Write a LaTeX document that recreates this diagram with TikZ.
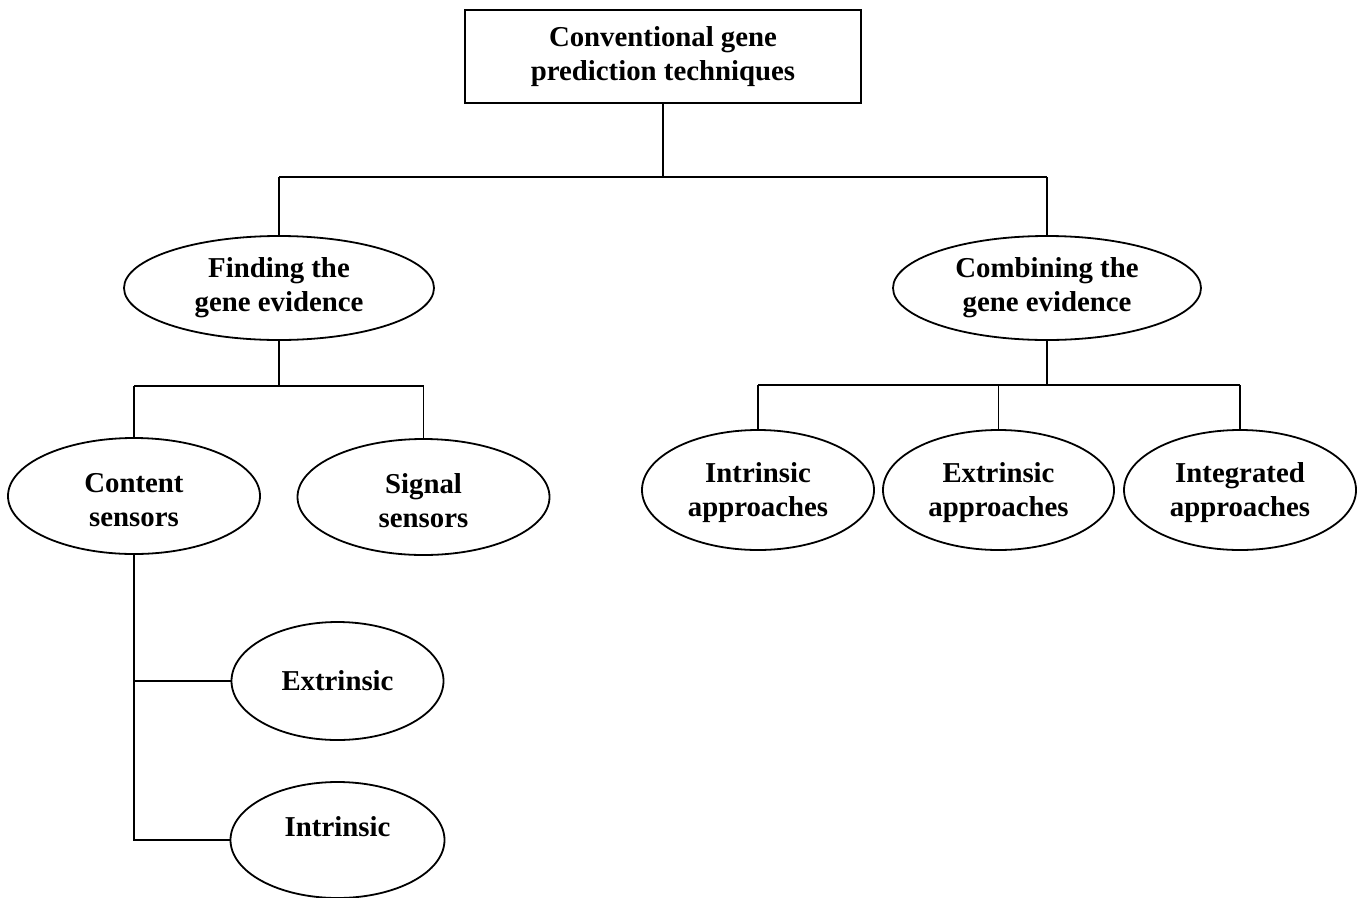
\documentclass[tikz,border=0pt]{standalone}
\usepackage{fontspec}
\setmainfont{Liberation Serif}
\usetikzlibrary{shapes.geometric}
\begin{document}
\begin{tikzpicture}[x=1pt,y=-1pt,
  every node/.style={font=\fontsize{28.8}{34}\selectfont\bfseries, align=center, inner sep=0pt},
  ell/.style={draw, ellipse, line width=1.8pt},
  box/.style={draw, rectangle, line width=1.8pt},
  conn/.style={line width=1.8pt}]
\useasboundingbox (0,0) rectangle (1364,897);
\node[box, minimum width=396pt, minimum height=93pt] (root) at (663,56.5) {Conventional gene\\prediction techniques};
\node[ell, minimum width=310pt, minimum height=104pt] (find) at (279,288) {Finding the\\gene evidence};
\node[ell, minimum width=308pt, minimum height=104pt] (comb) at (1047,288) {Combining the\\gene evidence};
\node[ell, minimum width=252pt, minimum height=116pt] (cont) at (134,496) {};
\node (contt) at (134,500) {Content\\sensors};
\node[ell, minimum width=252pt, minimum height=116pt] (sig) at (423.5,497) {};
\node (sigt) at (423.5,501) {Signal\\sensors};
\node[ell, minimum width=232pt, minimum height=120pt] (ia) at (758,490) {};
\node (iat) at (758,493) {Intrinsic\\approaches};
\node[ell, minimum width=231pt, minimum height=120pt] (ea) at (998.5,490) {};
\node (eat) at (998.5,493) {Extrinsic\\approaches};
\node[ell, minimum width=232pt, minimum height=120pt] (ga) at (1240,490) {};
\node (gat) at (1240,493) {Integrated\\approaches};
\node[ell, minimum width=212pt, minimum height=118pt] (ext) at (337.5,681) {Extrinsic};
\node[ell, minimum width=214pt, minimum height=116pt] (intr) at (337.5,840) {};
\node (intrt) at (337.5,827) {Intrinsic};
% connectors
\coordinate (j1) at (663,177);
\coordinate (j2) at (279,386);
\coordinate (j3) at (1047,385);
\draw[conn] (root.south) -- (j1);
\draw[conn] (find.north |- j1) -- (comb.north |- j1);
\draw[conn] (find.north |- j1) -- (find.north);
\draw[conn] (comb.north |- j1) -- (comb.north);
\draw[conn] (find.south) -- (j2);
\draw[conn] (cont.north |- j2) -- (sig.north |- j2);
\draw[conn] (cont.north |- j2) -- (cont.north);
\draw[conn] (sig.north |- j2) -- (sig.north);
\draw[conn] (comb.south) -- (j3);
\draw[conn] (ia.north |- j3) -- (ga.north |- j3);
\draw[conn] (ia.north |- j3) -- (ia.north);
\draw[conn] (ea.north |- j3) -- (ea.north);
\draw[conn] (ga.north |- j3) -- (ga.north);
\draw[conn] (cont.south) -- (cont.south |- intr.west) -- (intr.west);
\draw[conn] (cont.south |- ext.west) -- (ext.west);
\end{tikzpicture}
\end{document}
